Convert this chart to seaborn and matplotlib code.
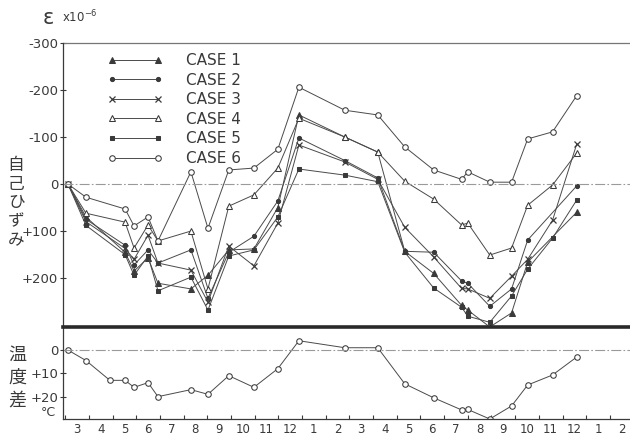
import numpy as np
import pandas as pd
import matplotlib
matplotlib.use("Agg")
import matplotlib.pyplot as plt
from matplotlib.legend_handler import HandlerLine2D
import seaborn as sns

# Measurement dates, in months from the first March (label "3" = 0)
t_month = [-0.38, 0.38, 1.39, 2.03, 2.41, 3.00, 3.42, 4.81, 5.53, 6.41, 7.47, 8.48,
           9.37, 11.31, 12.70, 13.84, 15.06, 16.24, 16.50, 17.43, 18.35, 19.03, 20.08, 21.10]
month_labels = ["3", "4", "5", "6", "7", "8", "9", "10", "11", "12", "1", "2",
                "3", "4", "5", "6", "7", "8", "9", "10", "11", "12", "1", "2"]

nan = np.nan
# Self-strain (x10^-6); negative = expansion side, drawn upward
case1 = [0, 70, nan, 145, 185, 157, 211, 223, 194, 140, 138, 50, -147, -100, -68, 143,
         190, 258, 268, 304, 274, 166, nan, 60]
case2 = [0, 75, nan, 130, 172, 140, 168, 140, 243, 145, 111, 36, -98, -50, -13, 143,
         145, 206, 211, 260, 223, 119, nan, 4]
case3 = [0, 80, nan, 137, 160, 109, 168, 183, 251, 132, 174, 83, -83, -47, -10, 92,
         155, 222, 223, 243, 196, 160, 77, -85]
case4 = [0, 62, nan, 81, 136, 87, 121, 100, 223, 47, 23, -34, -140, -100, -68, -6,
         32, 87, 83, 151, 136, 45, 2, -66]
case5 = [0, 88, nan, 150, 194, 153, 227, 198, 268, 153, 140, 70, -32, -19, -5, 145,
         221, 262, 281, 294, 238, 181, 115, 34]
case6 = [0, 28, nan, 53, 89, 70, 121, -26, 94, -30, -34, -74, -206, -157, -147, -79,
         -30, -10, -26, -4, -4, -96, -111, -188]
case_names = ["CASE 1", "CASE 2", "CASE 3", "CASE 4", "CASE 5", "CASE 6"]

# Temperature difference (deg C)
temp_diff = [0, 4.5, 13, 13, 16, 14, 20, 17, 19, 11, 16, 8, -4, -1, -1, 14.5,
             20.5, 25.7, 25.5, 29.6, 24, 15, 10.7, 3]

sns.set_theme(style="white")
plt.rcParams["font.family"] = ["DejaVu Sans"]
ink = "#3a3a3a"
line_c = "#4a4a4a"

fig = plt.figure(figsize=(6.3, 4.37), dpi=100)
H = 437.0
ax1 = fig.add_axes([0.1, 1 - 327 / H, 0.9, (327 - 43) / H])
ax2 = fig.add_axes([0.1, 1 - 419 / H, 0.9, (419 - 327) / H])

styles = [
    dict(marker="^", markersize=4, markerfacecolor=ink, markeredgecolor=ink),
    dict(marker="o", markersize=3, markerfacecolor=ink, markeredgecolor=ink),
    dict(marker="x", markersize=4, markeredgecolor=ink, markeredgewidth=0.9),
    dict(marker="^", markersize=5, markerfacecolor="white", markeredgecolor=ink),
    dict(marker="s", markersize=3.5, markerfacecolor=ink, markeredgecolor=ink),
    dict(marker="o", markersize=4, markerfacecolor="white", markeredgecolor=ink),
]
cases = [case1, case2, case3, case4, case5, case6]
for vals, name, st in zip(cases, case_names, styles):
    df = pd.DataFrame({"t": t_month, "v": vals})
    sns.lineplot(data=df, x="t", y="v", ax=ax1, color=line_c, linewidth=0.7,
                 label=name, **st)

xlim = (-0.59, 23.35)
ax1.set_xlim(*xlim)
ax1.set_ylim(304, -300)
ax1.axhline(-300, color="#777777", lw=0.9, clip_on=False)
ax1.axhline(0, color="#9a9a9a", lw=0.8, ls=(0, (9, 2, 1.5, 2)))
ax1.set_yticks([-300, -200, -100, 0, 100, 200])
ax1.set_yticklabels(["-300", "-200", "-100", "0", "+100", "+200"])
ax1.set_xticks([])
ax1.set_xlabel("")
ax1.set_ylabel("")
for s in ["top", "right", "bottom"]:
    ax1.spines[s].set_visible(False)
ax1.spines["left"].set_color(ink)
ax1.spines["left"].set_linewidth(0.9)
ax1.tick_params(axis="y", direction="inout", length=5, width=0.8, color=ink,
                labelsize=9.5, labelcolor=ink, pad=1, left=True)

leg = ax1.legend(loc="upper left", bbox_to_anchor=(97 / 630, 1 - 53 / H),
                 bbox_transform=fig.transFigure, frameon=False, fontsize=11,
                 handlelength=5.0, handletextpad=0.85, labelspacing=0.3,
                 borderpad=0, borderaxespad=0,
                 handler_map={plt.Line2D: HandlerLine2D(numpoints=2, marker_pad=1.0)})
for txt in leg.get_texts():
    txt.set_color(ink)

# Temperature difference panel
tdf = pd.DataFrame({"t": t_month, "d": temp_diff})
sns.lineplot(data=tdf, x="t", y="d", ax=ax2, color=line_c, linewidth=0.7,
             marker="o", markersize=4, markerfacecolor="white", markeredgecolor=ink)
ax2.set_xlim(*xlim)
ax2.set_ylim(29.6, -9.9)
ax2.axhline(0, color="#9a9a9a", lw=0.8, ls=(0, (9, 2, 1.5, 2)))
ax2.set_yticks([0, 10, 20])
ax2.set_yticklabels(["0", "+10", "+20"])
ax2.set_xticks(range(24))
ax2.set_xticklabels(month_labels)
ax2.set_xticks(np.arange(-0.5, 23.0, 1.0), minor=True)
ax2.set_xlabel("")
ax2.set_ylabel("")
ax2.spines["right"].set_visible(False)
for s in ["left", "bottom"]:
    ax2.spines[s].set_color(ink)
    ax2.spines[s].set_linewidth(0.9)
ax2.spines["top"].set_color("#2a2a2a")
ax2.spines["top"].set_linewidth(2.6)
ax2.tick_params(axis="x", which="major", length=0, labelsize=8.5, labelcolor=ink, pad=3)
ax2.tick_params(axis="x", which="minor", direction="in", length=3, width=0.8,
                color=ink, bottom=True)
ax2.tick_params(axis="y", direction="inout", length=4, width=0.8, color=ink,
                labelsize=9.5, labelcolor=ink, pad=1, left=True)
if ax2.get_legend() is not None:
    ax2.get_legend().remove()

# Axis titles and units
fig.text(48 / 630, 1 - 18 / H, "ε", fontsize=15, color=ink, ha="center", va="center")
fig.text(62 / 630, 1 - 17 / H, "x10$^{-6}$", fontsize=8.5, color=ink, ha="left", va="center")
cjk = ["Noto Sans CJK JP", "DejaVu Sans"]
fig.text(16 / 630, 1 - 203 / H, "自\n己\nひ\nず\nみ", family=cjk, fontsize=12,
         color=ink, ha="center", va="center", linespacing=1.15)
fig.text(17 / 630, 1 - 378 / H, "温\n度\n差", family=cjk, fontsize=13,
         color=ink, ha="center", va="center", linespacing=1.35)
fig.text(48 / 630, 1 - 413 / H, "°C", fontsize=9, color=ink, ha="center", va="center")

fig.savefig("out.png", dpi=100, facecolor="white")
